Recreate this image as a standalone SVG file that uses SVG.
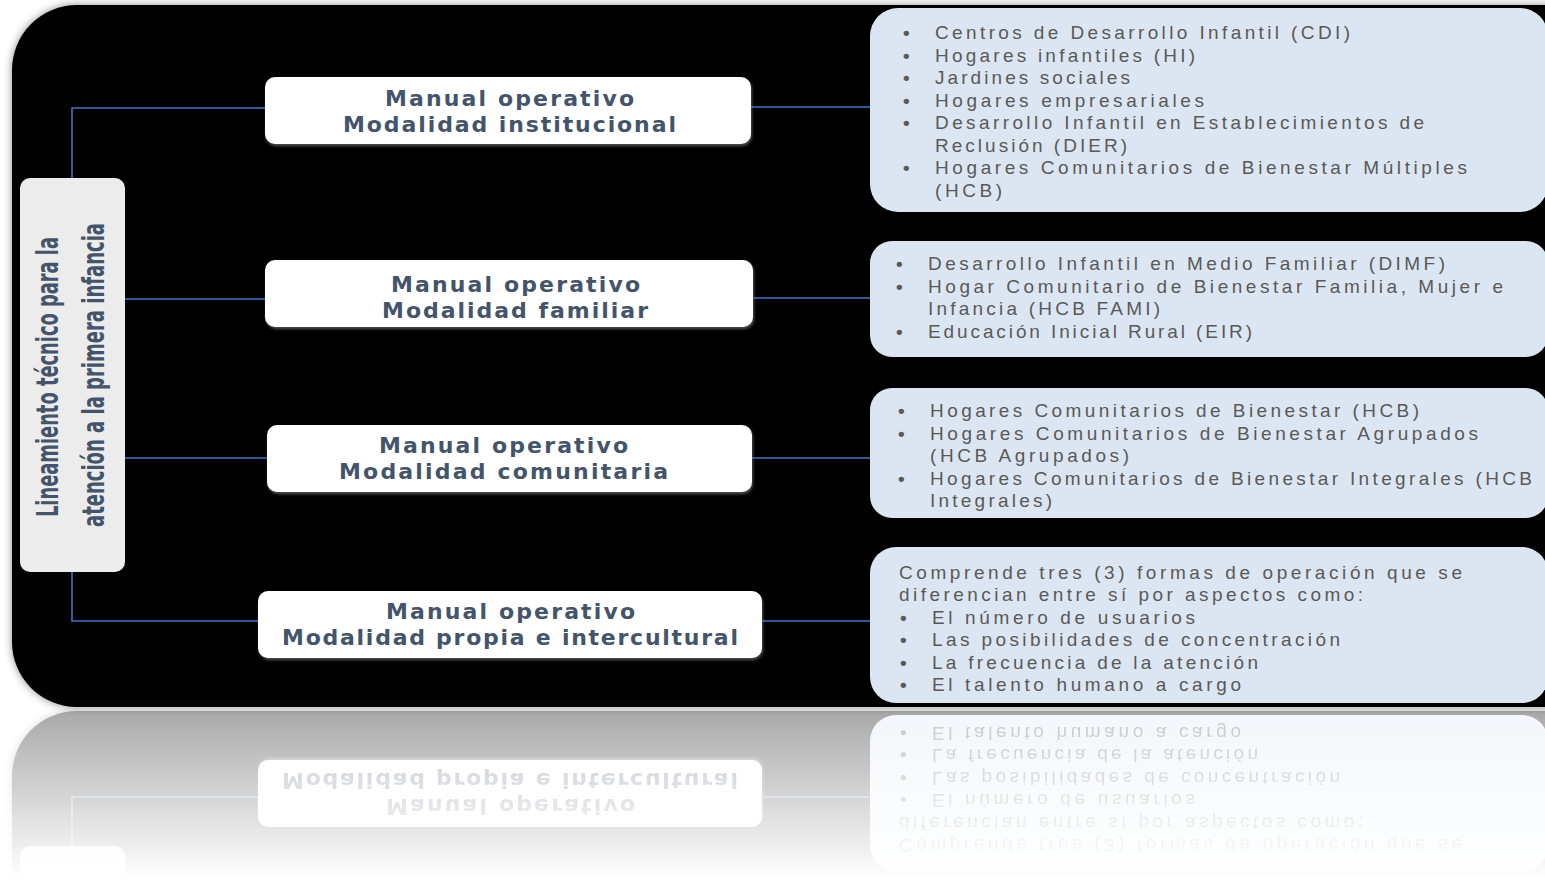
<svg xmlns="http://www.w3.org/2000/svg" xmlns:xlink="http://www.w3.org/1999/xlink" width="1545" height="882" viewBox="0 0 1545 882">
<style>
.bg{fill:#000}
.conn{stroke:#4472c4;stroke-width:1.6;fill:none}
.wbox{fill:#fff}
.lbox{fill:#ececec}
.bbox{fill:#dce6f2}
.wt{font-family:"DejaVu Sans","Verdana",sans-serif;font-weight:bold;font-size:22px;fill:#44546a;text-anchor:middle}
.lt{font-family:"Liberation Sans Narrow","DejaVu Sans Condensed","Liberation Sans",sans-serif;font-weight:bold;font-size:31px;fill:#44546a;text-anchor:middle}
.bt{font-family:"Liberation Sans","Arial",sans-serif;font-size:19px;fill:#595959}
.b{font-size:19px;font-weight:bold}
</style>
<defs>
<filter id="sh" x="-5%" y="-5%" width="110%" height="110%">
<feDropShadow dx="0" dy="0" stdDeviation="4" flood-color="#000" flood-opacity="0.45"/>
</filter>
<filter id="bsh" x="-5%" y="-20%" width="110%" height="140%">
<feDropShadow dx="1" dy="2" stdDeviation="1.5" flood-color="#888" flood-opacity="0.6"/>
</filter>
<linearGradient id="fade" gradientUnits="userSpaceOnUse" x1="0" y1="710" x2="0" y2="878">
<stop offset="0" stop-color="#fff" stop-opacity="0.34"/>
<stop offset="1" stop-color="#fff" stop-opacity="0"/>
</linearGradient>
<mask id="reflMask" maskUnits="userSpaceOnUse" x="0" y="708" width="1545" height="174">
<rect x="0" y="708" width="1545" height="174" fill="url(#fade)"/>
</mask>
</defs>
<rect x="0" y="0" width="1545" height="882" fill="#fff"/>
<g id="scene">
<rect id="background" class="bg" x="12" y="5" width="1600" height="702" rx="65" filter="url(#sh)"/>
<g id="connectors">
<polyline class="conn" points="72,178 72,108 265,108"/>
<polyline class="conn" points="72,572 72,621 258,621"/>
<line class="conn" x1="125" y1="299" x2="265" y2="299"/>
<line class="conn" x1="125" y1="458" x2="267" y2="458"/>
<line class="conn" x1="751" y1="107" x2="870" y2="107"/>
<line class="conn" x1="753" y1="298" x2="870" y2="298"/>
<line class="conn" x1="752" y1="458" x2="870" y2="458"/>
<line class="conn" x1="762" y1="621" x2="870" y2="621"/>
</g>
<g id="root-node">
<rect class="lbox" x="20" y="178" width="105" height="394" rx="10"/>
<text class="lt" transform="translate(58,377) rotate(-90)" x="0" y="0" textLength="280" lengthAdjust="spacingAndGlyphs">Lineamiento técnico para la</text>
<text class="lt" transform="translate(104,375) rotate(-90)" x="0" y="0" textLength="304" lengthAdjust="spacingAndGlyphs">atención a la primera infancia</text>
</g>
<g id="manual-institucional">
<rect class="wbox" x="265" y="77" width="486" height="67" rx="10" filter="url(#bsh)"/>
<text class="wt"><tspan x="509.5" y="106" textLength="249">Manual operativo</tspan><tspan x="509.5" y="132" textLength="333">Modalidad institucional</tspan></text>
</g>
<g id="manual-familiar">
<rect class="wbox" x="265" y="260" width="488" height="67" rx="10" filter="url(#bsh)"/>
<text class="wt"><tspan x="515.5" y="292" textLength="249">Manual operativo</tspan><tspan x="515" y="318" textLength="266">Modalidad familiar</tspan></text>
</g>
<g id="manual-comunitaria">
<rect class="wbox" x="267" y="425" width="485" height="67" rx="10" filter="url(#bsh)"/>
<text class="wt"><tspan x="503.5" y="453" textLength="249">Manual operativo</tspan><tspan x="503.5" y="479" textLength="329">Modalidad comunitaria</tspan></text>
</g>
<g id="manual-propia">
<rect class="wbox" x="258" y="591" width="504" height="67" rx="10" filter="url(#bsh)"/>
<text class="wt"><tspan x="510.5" y="619" textLength="249">Manual operativo</tspan><tspan x="510" y="645" textLength="456">Modalidad propia e intercultural</tspan></text>
</g>
<g id="detalle-institucional">
<rect class="bbox" x="870" y="8" width="678" height="204" rx="28"/>
<text class="bt"><tspan class="b" x="903" y="39">•</tspan><tspan x="935" y="39" textLength="415">Centros de Desarrollo Infantil  (CDI)</tspan><tspan class="b" x="903" y="61.5">•</tspan><tspan x="935" y="61.5" textLength="260">Hogares infantiles (HI)</tspan><tspan class="b" x="903" y="84">•</tspan><tspan x="935" y="84" textLength="195">Jardines sociales</tspan><tspan class="b" x="903" y="106.5">•</tspan><tspan x="935" y="106.5" textLength="269">Hogares empresariales</tspan><tspan class="b" x="903" y="129">•</tspan><tspan x="935" y="129" textLength="489">Desarrollo Infantil en Establecimientos de</tspan><tspan x="935" y="151.5" textLength="192">Reclusión (DIER)</tspan><tspan class="b" x="903" y="174">•</tspan><tspan x="935" y="174" textLength="532">Hogares Comunitarios de Bienestar Múltiples</tspan><tspan x="935" y="196.5" textLength="67">(HCB)</tspan></text>
</g>
<g id="detalle-familiar">
<rect class="bbox" x="870" y="241" width="678" height="116" rx="22"/>
<text class="bt"><tspan class="b" x="896" y="270">•</tspan><tspan x="928" y="270" textLength="517">Desarrollo Infantil en Medio Familiar (DIMF)</tspan><tspan class="b" x="896" y="293">•</tspan><tspan x="928" y="293" textLength="575">Hogar Comunitario de Bienestar Familia, Mujer e</tspan><tspan x="928" y="315" textLength="232">Infancia (HCB FAMI)</tspan><tspan class="b" x="896" y="338">•</tspan><tspan x="928" y="338" textLength="324">Educación Inicial Rural (EIR)</tspan></text>
</g>
<g id="detalle-comunitaria">
<rect class="bbox" x="870" y="388" width="678" height="130" rx="22"/>
<text class="bt"><tspan class="b" x="898" y="417">•</tspan><tspan x="930" y="417" textLength="489">Hogares Comunitarios de Bienestar (HCB)</tspan><tspan class="b" x="898" y="440">•</tspan><tspan x="930" y="440" textLength="548">Hogares Comunitarios de Bienestar Agrupados</tspan><tspan x="930" y="462" textLength="199">(HCB Agrupados)</tspan><tspan class="b" x="898" y="485">•</tspan><tspan x="930" y="485" textLength="602">Hogares Comunitarios de Bienestar Integrales (HCB</tspan><tspan x="930" y="507" textLength="122">Integrales)</tspan></text>
</g>
<g id="detalle-propia">
<rect class="bbox" x="870" y="547" width="678" height="156" rx="26"/>
<text class="bt"><tspan x="899" y="579" textLength="563">Comprende tres (3) formas de operación que se</tspan><tspan x="899" y="601" textLength="464">diferencian entre sí por aspectos como:</tspan><tspan class="b" x="900" y="624">•</tspan><tspan x="932" y="624" textLength="263">El número de usuarios</tspan><tspan class="b" x="900" y="646">•</tspan><tspan x="932" y="646" textLength="408">Las posibilidades de concentración</tspan><tspan class="b" x="900" y="669">•</tspan><tspan x="932" y="669" textLength="326">La frecuencia de la atención</tspan><tspan class="b" x="900" y="691">•</tspan><tspan x="932" y="691" textLength="309">El talento humano a cargo</tspan></text>
</g>
</g>
<g id="reflection" mask="url(#reflMask)">
<use xlink:href="#scene" href="#scene" transform="translate(0,1418) scale(1,-1)"/>
</g>
</svg>
